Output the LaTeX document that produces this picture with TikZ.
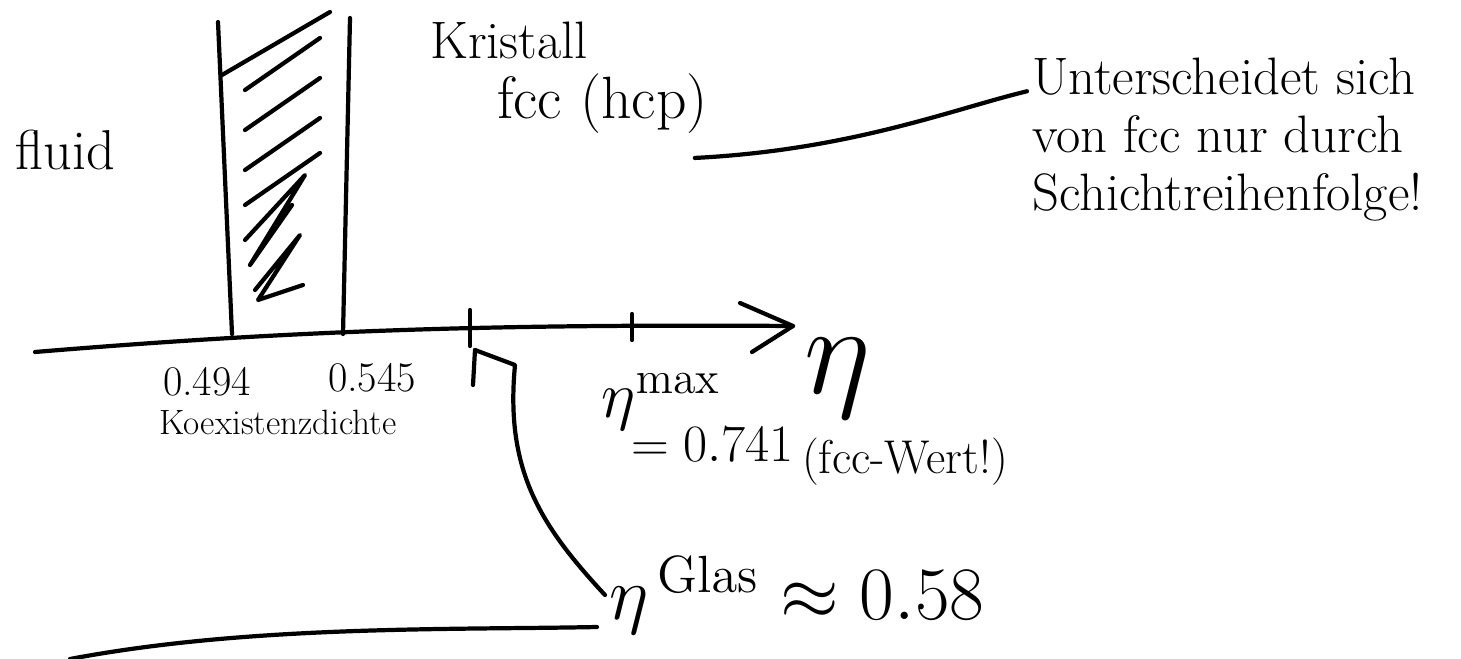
\documentclass[tikz,border=0pt]{standalone}
\usetikzlibrary{calc, positioning}

\tikzset{
  hand/.style={font=\fontsize{24}{30}\selectfont, inner sep=0pt, text=black},
  bighand/.style={font=\fontsize{20}{24}\selectfont, inner sep=0pt, scale=1.8},
  stroke/.style={line width=2.4pt, line cap=round, line join=round}
}

\begin{document}
\begin{tikzpicture}[x=0.02cm, y=-0.02cm, stroke]
\useasboundingbox (0,0) rectangle (1461,659);

% eta axis
\coordinate (axstart) at (35,352);
\coordinate (axtip) at (793,326);
\draw (axstart) .. controls (300,330) and (500,324) .. (axtip);
\draw (740,303) -- (axtip) -- (752,352);
\node[font=\fontsize{20}{24}\selectfont, inner sep=0pt, scale=3.5] (eta) at (838,378) {$\eta$};

% ticks
\coordinate (tglas) at (470,328);
\coordinate (tmax) at (632,326);
\draw ($(tglas)+(0,-18)$) -- ($(tglas)+(0,18)$);
\draw ($(tmax)+(0,-12)$) -- ($(tmax)+(0,14)$);

% coexistence band
\draw (218,22) -- (232,334);
\draw (350,18) -- (343,334);
\foreach \y in {60,100,140,175} {
  \draw (245,\y+30) -- (320,\y-22);
}
\draw (222,75) -- (330,12);
\draw (245,240) -- (305,175) -- (250,265) -- (292,205);
\draw (255,290) -- (300,235) -- (258,300) -- (303,285);

% phase labels
\node[hand, font=\fontsize{32}{36}\selectfont] (fluid) at (65,150) {fluid};
\node[hand, anchor=west, font=\fontsize{30}{34}\selectfont] (kristall) at (428,40) {Kristall};
\node[hand, anchor=west, font=\fontsize{34}{38}\selectfont] (fcc) at (495,104) {fcc (hcp)};
\node[hand, anchor=west, align=left, font=\fontsize{30}{33}\selectfont] (note) at (1030,140)
  {Unterscheidet sich\\von fcc nur durch\\Schichtreihenfolge!};
\draw ($(fcc.south east)+(-15,22)$) .. controls (850,150) and (950,110) .. ($(note.north west)+(-3,35)$);

% coexistence densities
\node[hand] (n494) at (207,382) {0.494};
\node[hand] (n545) at (372,378) {0.545};
\node[hand, font=\fontsize{20}{24}\selectfont] (koex) at (278,422) {Koexistenzdichte};

% close packing
\node[bighand, anchor=west] (etamax) at (598,402) {$\eta^{\mathrm{max}}$};
\node[bighand, anchor=west, scale=0.8] (val741) at (628,445) {$=0.741$};
\node[hand, anchor=west, font=\fontsize{27}{30}\selectfont] (fccwert) at (800,462) {(fcc-Wert!)};

% glass
\node[bighand, anchor=west, scale=1.15] (etaglas) at (605,595) {$\eta^{\,\mathrm{Glas}}\approx 0.58$};
\coordinate (ghead) at (475,350);
\draw (etaglas.west) .. controls (540,525) and (505,470) .. (515,365) -- (ghead);
\draw (ghead) -- ++(-2,35);

% lower line
\coordinate (lowstart) at (70,659);
\draw (lowstart) .. controls (250,625) and (450,630) .. ($(etaglas.west)+(-8,32)$);
\end{tikzpicture}
\end{document}
